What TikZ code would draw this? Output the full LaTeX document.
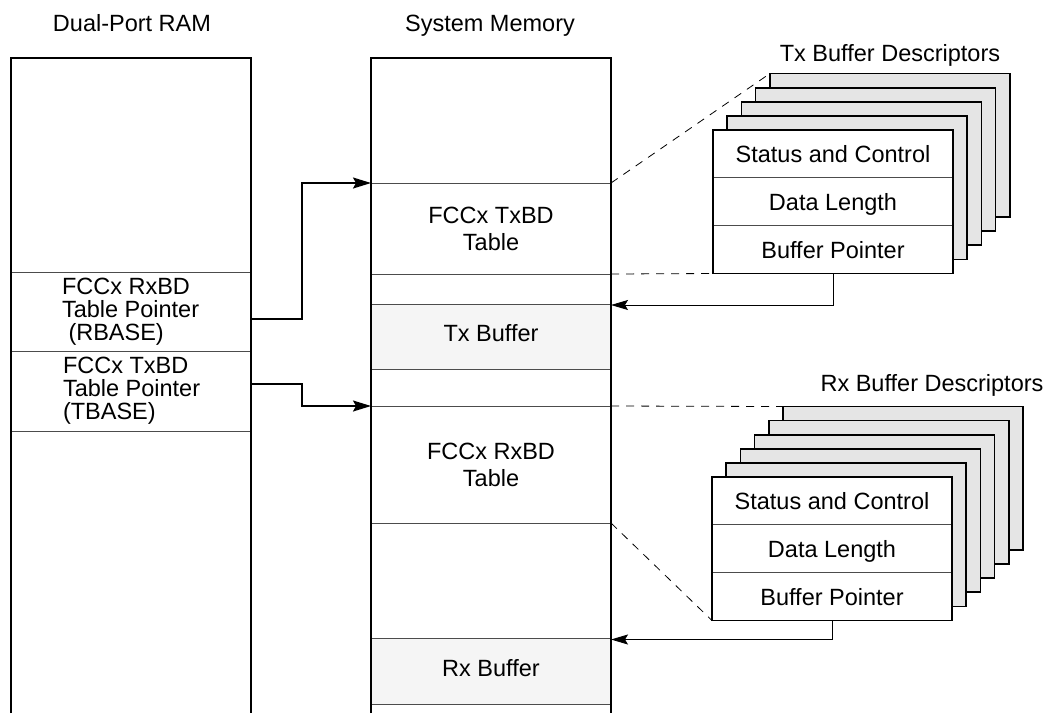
\documentclass[tikz,border=0pt]{standalone}
\usepackage{fontspec}
\setmainfont{Liberation Sans}
\usetikzlibrary{arrows.meta,calc}
\begin{document}
\begin{tikzpicture}[x=1pt,y=-1pt,
  every node/.style={font=\fontsize{23.5}{27}\selectfont, inner sep=0pt, outer sep=0pt},
  one/.style={text height=17pt, text depth=0pt},
  col/.style={line width=1.7pt, black},
  div/.style={line width=0.9pt, black!70},
  sect/.style={rectangle, minimum width=240pt, align=center},
  bufsect/.style={sect, fill=black!4},
  backbox/.style={rectangle, minimum width=240pt, minimum height=143.5pt, fill=black!10, draw=black, line width=1.7pt},
  cell/.style={rectangle, minimum width=240pt, minimum height=47.83pt, fill=white, one},
  dashconn/.style={line width=0.8pt, dash pattern=on 8pt off 7pt},
  ptr/.style={line width=1.7pt, -{Stealth[length=18pt,width=11pt,inset=3pt]}},
  bdptr/.style={line width=0.9pt, -{Stealth[length=17pt,width=10pt,inset=3pt]}},
  ptrtext/.style={anchor=west, align=left, font=\fontsize{23.5}{23}\selectfont}
]
\useasboundingbox (0,0) rectangle (1049,713);

% titles
\node[one] (dpram) at (132,23) {Dual-Port RAM};
\node[one] (sysmem) at (490,23) {System Memory};
\node[one] (txtitle) at (890,53) {Tx Buffer Descriptors};
\node[one] (rxtitle) at (932,383) {Rx Buffer Descriptors};

% Dual-port RAM sections
\node[sect, minimum height=79pt] (rbase) at (131,311.5) {};
\node[sect, minimum height=80pt] (tbase) at (131,391) {};
\node[ptrtext] (rbasetxt) at (62,312) {FCCx RxBD\\Table Pointer\\\hspace*{6.5pt}(RBASE)};
\node[ptrtext] (tbasetxt) at (63,391) {FCCx TxBD\\Table Pointer\\(TBASE)};
\draw[div] (rbase.north west) -- (rbase.north east);
\draw[div] (tbase.north west) -- (tbase.north east);
\draw[div] (tbase.south west) -- (tbase.south east);
\draw[col] (11,713) -- (11,58) -- (251,58) -- (251,713);

% System memory sections
\node[sect, minimum height=91pt] (txtab) at (491,228.5) {FCCx TxBD\\Table};
\node[bufsect, minimum height=65pt] (txbuf) at (491,336.5) {\strut Tx Buffer};
\node[sect, minimum height=117pt] (rxtab) at (491,464.5) {FCCx RxBD\\Table};
\node[bufsect, minimum height=66pt] (rxbuf) at (491,671) {\strut Rx Buffer};
\foreach \s in {txtab,txbuf,rxtab,rxbuf}{
  \draw[div] (\s.north west) -- (\s.north east);
  \draw[div] (\s.south west) -- (\s.south east);
}
\draw[col] (371,713) -- (371,58) -- (611,58) -- (611,713);

% Tx buffer descriptors
\foreach \k in {4,3,2,1}{
  \node[backbox] (txb\k) at ({833+14.2*\k},{201.75-14.1*\k}) {};
}
\node[cell] (txsc) at (833,153.9) {Status and Control};
\node[cell] (txdl) at (833,201.75) {Data Length};
\node[cell] (txbp) at (833,249.6) {Buffer Pointer};
\draw[div] (txsc.south west) -- (txsc.south east);
\draw[div] (txdl.south west) -- (txdl.south east);
\draw[col] (txsc.north west) rectangle (txbp.south east);

% Rx buffer descriptors
\foreach \k in {5,4,3,2,1}{
  \node[backbox] (rxb\k) at ({832+14.2*\k},{548.75-14.1*\k}) {};
}
\node[cell] (rxsc) at (832,500.9) {Status and Control};
\node[cell] (rxdl) at (832,548.75) {Data Length};
\node[cell] (rxbp) at (832,596.6) {Buffer Pointer};
\draw[div] (rxsc.south west) -- (rxsc.south east);
\draw[div] (rxdl.south west) -- (rxdl.south east);
\draw[col] (rxsc.north west) rectangle (rxbp.south east);

% dashed projection lines
\draw[dashconn] (txtab.north east) -- (txb4.north west);
\draw[dashconn] (txtab.south east) -- (txbp.south west);
\draw[dashconn] (rxtab.north east) -- (rxb5.north west);
\draw[dashconn] (rxtab.south east) -- (rxbp.south west);

% pointers
\draw[ptr] ([yshift=-7.5pt]rbase.east) -- ++(51,0) |- (txtab.north west);
\draw[ptr] ([yshift=7pt]tbase.east) -- ++(51,0) |- (rxtab.north west);
\draw[bdptr] (txbp.south) |- ([yshift=-1pt]txbuf.north east);
\draw[bdptr] (rxbp.south) |- ([yshift=-1.5pt]rxbuf.north east);
\end{tikzpicture}
\end{document}
